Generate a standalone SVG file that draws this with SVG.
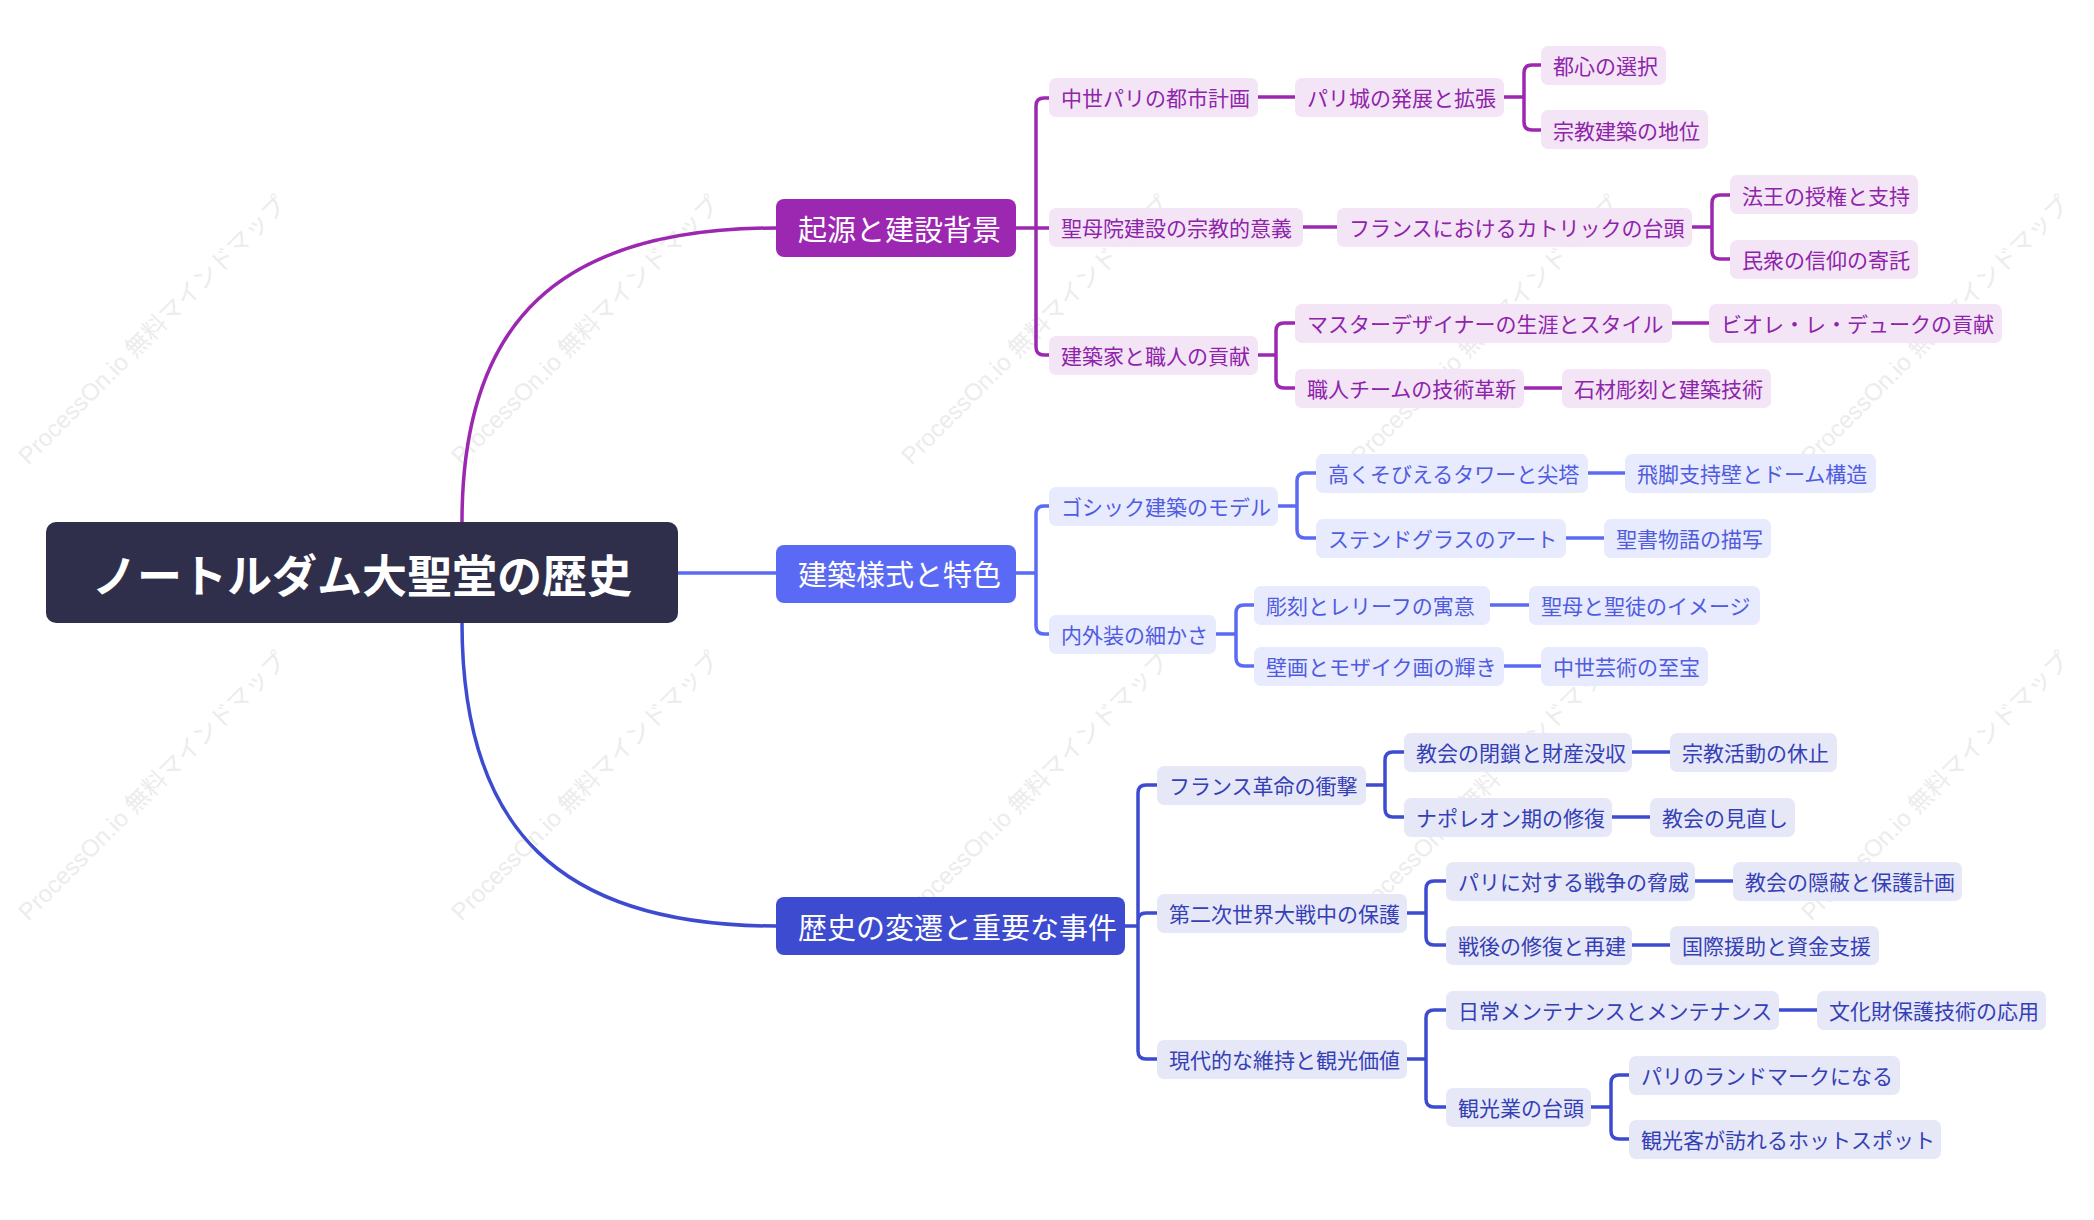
<svg xmlns="http://www.w3.org/2000/svg" width="2094" height="1220" viewBox="0 0 2094 1220">
<style>
.wm{font-family:"Liberation Sans","Noto Sans CJK JP",sans-serif;font-size:24px;fill:#ececec;}
.t{font-family:"Noto Sans CJK JP",sans-serif;font-size:21px;dominant-baseline:central;}
.p rect{fill:#f3e5f5}.p text{fill:#8e24aa}
.b rect{fill:#e8eafd}.b text{fill:#4f5ce0}
.d rect{fill:#e6e8f8}.d text{fill:#3540b5}
.l1 text{font-family:"Noto Sans CJK JP",sans-serif;font-size:29px;fill:#fff;dominant-baseline:central;}
.c{fill:none;stroke-width:3.5;}
.cp{stroke:#9c27b0}.cb{stroke:#5b6af5}.cd{stroke:#3d4bd0}
</style>
<rect width="2094" height="1220" fill="#fff"/>
<g id="watermarks">
<text class="wm" text-anchor="middle" transform="translate(158,336) rotate(-45)">ProcessOn.io 無料マインドマップ</text>
<text class="wm" text-anchor="middle" transform="translate(591,336) rotate(-45)">ProcessOn.io 無料マインドマップ</text>
<text class="wm" text-anchor="middle" transform="translate(1041,336) rotate(-45)">ProcessOn.io 無料マインドマップ</text>
<text class="wm" text-anchor="middle" transform="translate(1491,336) rotate(-45)">ProcessOn.io 無料マインドマップ</text>
<text class="wm" text-anchor="middle" transform="translate(1941,336) rotate(-45)">ProcessOn.io 無料マインドマップ</text>
<text class="wm" text-anchor="middle" transform="translate(158,792) rotate(-45)">ProcessOn.io 無料マインドマップ</text>
<text class="wm" text-anchor="middle" transform="translate(591,792) rotate(-45)">ProcessOn.io 無料マインドマップ</text>
<text class="wm" text-anchor="middle" transform="translate(1041,792) rotate(-45)">ProcessOn.io 無料マインドマップ</text>
<text class="wm" text-anchor="middle" transform="translate(1491,792) rotate(-45)">ProcessOn.io 無料マインドマップ</text>
<text class="wm" text-anchor="middle" transform="translate(1941,792) rotate(-45)">ProcessOn.io 無料マインドマップ</text>
</g>
<g id="connectors">
<path class="c cp" d="M462,522 C462,320 560,228 776,228"/>
<path class="c cb" d="M678,573 H776"/>
<path class="c cd" d="M462,623 C462,830 560,926 776,926"/>
<path class="c cp" d="M1016,228 H1036 M1036,228 V106 Q1036,98 1044,98 H1049 M1036,228 H1049 M1036,228 V347 Q1036,355 1044,355 H1049"/>
<path class="c cp" d="M1258,97 H1295"/>
<path class="c cp" d="M1504,97 H1524 M1524,97 V73 Q1524,65 1532,65 H1541 M1524,97 V122 Q1524,130 1532,130 H1541"/>
<path class="c cp" d="M1303,227 H1337"/>
<path class="c cp" d="M1692,227 H1712 M1712,227 V203 Q1712,195 1720,195 H1730 M1712,227 V251 Q1712,259 1720,259 H1730"/>
<path class="c cp" d="M1258,355 H1276 M1276,355 V331 Q1276,323 1284,323 H1295 M1276,355 V380 Q1276,388 1284,388 H1295"/>
<path class="c cp" d="M1672,323 H1709"/>
<path class="c cp" d="M1524,388 H1562"/>
<path class="c cb" d="M1016,573 H1036 M1036,573 V514 Q1036,506 1044,506 H1049 M1036,573 V626 Q1036,634 1044,634 H1049"/>
<path class="c cb" d="M1278,506 H1297 M1297,506 V481 Q1297,473 1305,473 H1316 M1297,506 V530 Q1297,538 1305,538 H1316"/>
<path class="c cb" d="M1588,473 H1625"/>
<path class="c cb" d="M1566,538 H1604"/>
<path class="c cb" d="M1216,634 H1236 M1236,634 V613 Q1236,605 1244,605 H1254 M1236,634 V658 Q1236,666 1244,666 H1254"/>
<path class="c cb" d="M1490,605 H1529"/>
<path class="c cb" d="M1504,666 H1541"/>
<path class="c cd" d="M1125,926 H1138 M1138,926 V793 Q1138,785 1146,785 H1157 M1138,926 V921 Q1138,913 1146,913 H1157 M1138,926 V1051 Q1138,1059 1146,1059 H1157"/>
<path class="c cd" d="M1366,785 H1385 M1385,785 V760 Q1385,752 1393,752 H1404 M1385,785 V809 Q1385,817 1393,817 H1404"/>
<path class="c cd" d="M1632,752 H1670"/>
<path class="c cd" d="M1612,817 H1650"/>
<path class="c cd" d="M1407,913 H1426 M1426,913 V889 Q1426,881 1434,881 H1446 M1426,913 V937 Q1426,945 1434,945 H1446"/>
<path class="c cd" d="M1695,881 H1733"/>
<path class="c cd" d="M1632,945 H1670"/>
<path class="c cd" d="M1407,1059 H1426 M1426,1059 V1018 Q1426,1010 1434,1010 H1446 M1426,1059 V1099 Q1426,1107 1434,1107 H1446"/>
<path class="c cd" d="M1779,1010 H1817"/>
<path class="c cd" d="M1591,1107 H1611 M1611,1107 V1083 Q1611,1075 1619,1075 H1629 M1611,1107 V1131 Q1611,1139 1619,1139 H1629"/>
</g>
<g id="root"><rect x="46" y="522" width="632" height="101" rx="10" fill="#2f2f4b"/><text x="362" y="573" text-anchor="middle" dominant-baseline="central" font-family="Noto Sans CJK JP,sans-serif" font-size="45" font-weight="bold" fill="#fff">ノートルダム大聖堂の歴史</text></g>
<g id="n1" class="l1"><rect x="776" y="199" width="240" height="58" rx="8" fill="#9c27b0"/><text x="798" y="228">起源と建設背景</text></g>
<g id="n2" class="l1"><rect x="776" y="545" width="240" height="58" rx="8" fill="#5b6af5"/><text x="798" y="573">建築様式と特色</text></g>
<g id="n3" class="l1"><rect x="776" y="897" width="349" height="58" rx="8" fill="#3d4bd0"/><text x="798" y="926">歴史の変遷と重要な事件</text></g>
<g class="p">
<g id="p1"><rect x="1049" y="78" width="209" height="39" rx="7"/><text class="t" x="1061" y="97">中世パリの都市計画</text></g>
<g id="p11"><rect x="1295" y="78" width="209" height="39" rx="7"/><text class="t" x="1307" y="97">パリ城の発展と拡張</text></g>
<g id="p111"><rect x="1541" y="46" width="125" height="39" rx="7"/><text class="t" x="1553" y="65">都心の選択</text></g>
<g id="p112"><rect x="1541" y="110" width="167" height="39" rx="7"/><text class="t" x="1553" y="130">宗教建築の地位</text></g>
<g id="p2"><rect x="1049" y="208" width="254" height="39" rx="7"/><text class="t" x="1061" y="227">聖母院建設の宗教的意義</text></g>
<g id="p21"><rect x="1337" y="208" width="355" height="39" rx="7"/><text class="t" x="1349" y="227">フランスにおけるカトリックの台頭</text></g>
<g id="p211"><rect x="1730" y="175" width="188" height="39" rx="7"/><text class="t" x="1742" y="195">法王の授権と支持</text></g>
<g id="p212"><rect x="1730" y="240" width="188" height="39" rx="7"/><text class="t" x="1742" y="259">民衆の信仰の寄託</text></g>
<g id="p3"><rect x="1049" y="336" width="209" height="39" rx="7"/><text class="t" x="1061" y="355">建築家と職人の貢献</text></g>
<g id="p31"><rect x="1295" y="304" width="377" height="39" rx="7"/><text class="t" x="1307" y="323">マスターデザイナーの生涯とスタイル</text></g>
<g id="p311"><rect x="1709" y="304" width="293" height="39" rx="7"/><text class="t" x="1721" y="323">ビオレ・レ・デュークの貢献</text></g>
<g id="p32"><rect x="1295" y="369" width="229" height="39" rx="7"/><text class="t" x="1307" y="388">職人チームの技術革新</text></g>
<g id="p321"><rect x="1562" y="369" width="209" height="39" rx="7"/><text class="t" x="1574" y="388">石材彫刻と建築技術</text></g>
</g>
<g class="b">
<g id="b1"><rect x="1049" y="487" width="229" height="39" rx="7"/><text class="t" x="1061" y="506">ゴシック建築のモデル</text></g>
<g id="b11"><rect x="1316" y="454" width="272" height="39" rx="7"/><text class="t" x="1328" y="473">高くそびえるタワーと尖塔</text></g>
<g id="b111"><rect x="1625" y="454" width="251" height="39" rx="7"/><text class="t" x="1637" y="473">飛脚支持壁とドーム構造</text></g>
<g id="b12"><rect x="1316" y="519" width="250" height="39" rx="7"/><text class="t" x="1328" y="538">ステンドグラスのアート</text></g>
<g id="b121"><rect x="1604" y="519" width="167" height="39" rx="7"/><text class="t" x="1616" y="538">聖書物語の描写</text></g>
<g id="b2"><rect x="1049" y="615" width="167" height="39" rx="7"/><text class="t" x="1061" y="634">内外装の細かさ</text></g>
<g id="b21"><rect x="1254" y="586" width="236" height="39" rx="7"/><text class="t" x="1266" y="605">彫刻とレリーフの寓意</text></g>
<g id="b211"><rect x="1529" y="586" width="231" height="39" rx="7"/><text class="t" x="1541" y="605">聖母と聖徒のイメージ</text></g>
<g id="b22"><rect x="1254" y="647" width="250" height="39" rx="7"/><text class="t" x="1266" y="666">壁画とモザイク画の輝き</text></g>
<g id="b221"><rect x="1541" y="647" width="167" height="39" rx="7"/><text class="t" x="1553" y="666">中世芸術の至宝</text></g>
</g>
<g class="d">
<g id="d1"><rect x="1157" y="766" width="209" height="39" rx="7"/><text class="t" x="1169" y="785">フランス革命の衝撃</text></g>
<g id="d11"><rect x="1404" y="733" width="228" height="39" rx="7"/><text class="t" x="1416" y="752">教会の閉鎖と財産没収</text></g>
<g id="d111"><rect x="1670" y="733" width="167" height="39" rx="7"/><text class="t" x="1682" y="752">宗教活動の休止</text></g>
<g id="d12"><rect x="1404" y="798" width="208" height="39" rx="7"/><text class="t" x="1416" y="817">ナポレオン期の修復</text></g>
<g id="d121"><rect x="1650" y="798" width="145" height="39" rx="7"/><text class="t" x="1662" y="817">教会の見直し</text></g>
<g id="d2"><rect x="1157" y="894" width="250" height="39" rx="7"/><text class="t" x="1169" y="913">第二次世界大戦中の保護</text></g>
<g id="d21"><rect x="1446" y="862" width="249" height="39" rx="7"/><text class="t" x="1458" y="881">パリに対する戦争の脅威</text></g>
<g id="d211"><rect x="1733" y="862" width="229" height="39" rx="7"/><text class="t" x="1745" y="881">教会の隠蔽と保護計画</text></g>
<g id="d22"><rect x="1446" y="926" width="186" height="39" rx="7"/><text class="t" x="1458" y="945">戦後の修復と再建</text></g>
<g id="d221"><rect x="1670" y="926" width="209" height="39" rx="7"/><text class="t" x="1682" y="945">国際援助と資金支援</text></g>
<g id="d3"><rect x="1157" y="1040" width="250" height="39" rx="7"/><text class="t" x="1169" y="1059">現代的な維持と観光価値</text></g>
<g id="d31"><rect x="1446" y="991" width="333" height="39" rx="7"/><text class="t" x="1458" y="1010">日常メンテナンスとメンテナンス</text></g>
<g id="d311"><rect x="1817" y="991" width="229" height="39" rx="7"/><text class="t" x="1829" y="1010">文化財保護技術の応用</text></g>
<g id="d32"><rect x="1446" y="1088" width="145" height="39" rx="7"/><text class="t" x="1458" y="1107">観光業の台頭</text></g>
<g id="d321"><rect x="1629" y="1056" width="271" height="39" rx="7"/><text class="t" x="1641" y="1075">パリのランドマークになる</text></g>
<g id="d322"><rect x="1629" y="1120" width="312" height="39" rx="7"/><text class="t" x="1641" y="1139">観光客が訪れるホットスポット</text></g>
</g>
</svg>
